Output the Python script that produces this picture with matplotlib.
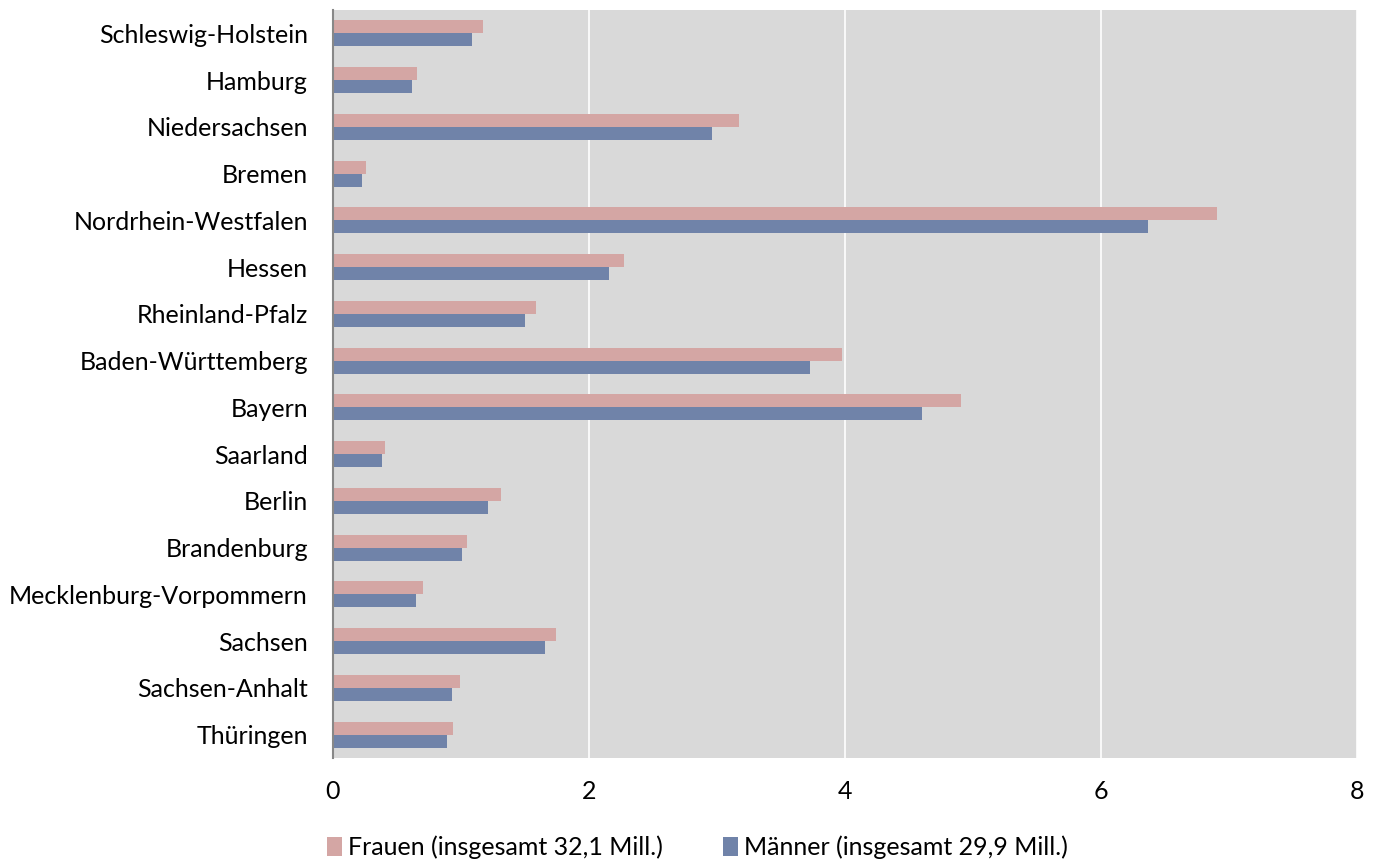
import matplotlib

matplotlib.use('Agg')
import matplotlib.pyplot as plt
import numpy as np

plt.rcParams['font.family'] = ['Lato', 'DejaVu Sans']

laender = [
    'Schleswig-Holstein', 'Hamburg', 'Niedersachsen', 'Bremen',
    'Nordrhein-Westfalen', 'Hessen', 'Rheinland-Pfalz', 'Baden-Württemberg',
    'Bayern', 'Saarland', 'Berlin', 'Brandenburg',
    'Mecklenburg-Vorpommern', 'Sachsen', 'Sachsen-Anhalt', 'Thüringen',
]
frauen = [1.17, 0.66, 3.17, 0.26, 6.91, 2.27, 1.59, 3.98,
          4.91, 0.41, 1.31, 1.05, 0.70, 1.74, 0.99, 0.94]
maenner = [1.09, 0.62, 2.96, 0.23, 6.37, 2.16, 1.50, 3.73,
           4.60, 0.38, 1.21, 1.01, 0.65, 1.66, 0.93, 0.89]
x_ticks = [0, 2, 4, 6, 8]

fs = 18

fig = plt.figure(figsize=(13.81, 8.63), dpi=100)
ax = fig.add_axes([0.2411, 0.1217, 0.7415, 0.8667])
ax.set_facecolor('#d9d9d9')

y = np.arange(len(laender))
h = 0.28
ax.barh(y - h / 2, frauen, height=h, color='#d4a6a4', label='Frauen (insgesamt 32,1 Mill.)', zorder=3)
ax.barh(y + h / 2, maenner, height=h, color='#7083a9', label='Männer (insgesamt 29,9 Mill.)', zorder=3)

ax.set_ylim(len(laender) - 0.5, -0.5)
ax.set_xlim(0, 8)
ax.set_yticks(y)
ax.set_yticklabels(laender, fontsize=fs)
ax.set_xticks(x_ticks)
ax.set_xticklabels([str(t) for t in x_ticks], fontsize=fs)
ax.tick_params(axis='both', length=0)
ax.tick_params(axis='x', pad=16)
ax.tick_params(axis='y', pad=18)
ax.grid(axis='x', color='white', linewidth=1.2, zorder=1)

for s in ['top', 'right', 'bottom']:
    ax.spines[s].set_visible(False)
ax.spines['left'].set_color('#888888')
ax.spines['left'].set_linewidth(1.5)
ax.spines['left'].set_zorder(4)

fig.legend(loc='lower center', bbox_to_anchor=(0.505, -0.022), ncol=2, frameon=False,
           fontsize=fs, handlelength=0.6, handleheight=0.8, handletextpad=0.25,
           columnspacing=2.4)

fig.savefig('out.png', dpi=100)
